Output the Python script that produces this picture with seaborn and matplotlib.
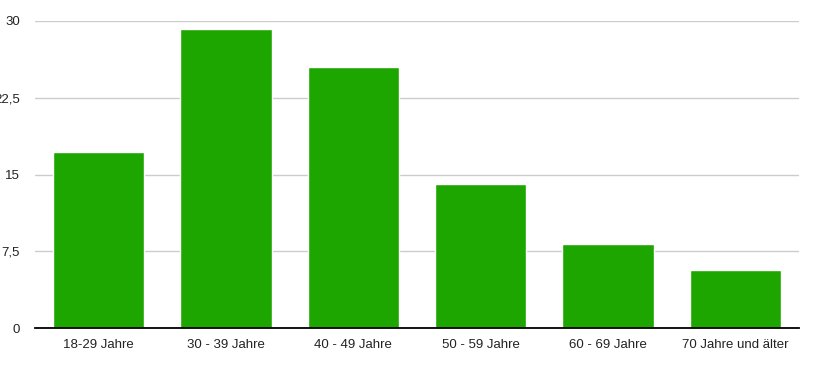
import matplotlib
matplotlib.use("Agg")
import matplotlib.pyplot as plt
import seaborn as sns
import pandas as pd

categories = ["18-29 Jahre", "30 - 39 Jahre", "40 - 49 Jahre", "50 - 59 Jahre", "60 - 69 Jahre", "70 Jahre und älter"]
values = [17.2, 29.2, 25.5, 14.1, 8.2, 5.7]
y_ticks = [0, 7.5, 15, 22.5, 30]
y_tick_labels = ["0", "7,5", "15", "22,5", "30"]

sns.set_theme(style="white")
plt.rcParams['font.family'] = ['Liberation Sans', 'DejaVu Sans']

df = pd.DataFrame({"cat": categories, "val": values})

fig = plt.figure(figsize=(8.2, 3.71), dpi=100)
ax = fig.add_axes([35/820, 1-328.3/371, (799-35)/820, (328.3-20.7)/371])

sns.barplot(data=df, x="cat", y="val", color="#1ea600", saturation=1, width=0.715, ax=ax, zorder=3)

ax.set_xlim(-0.5, 5.5)
ax.set_ylim(0, 30)
ax.set_yticks(y_ticks)
ax.set_yticklabels(y_tick_labels)
ax.set_xlabel("")
ax.set_ylabel("")
ax.yaxis.grid(True, color="#cccccc", linewidth=1, zorder=0)
ax.xaxis.grid(False)
for s in ["left", "right", "top"]:
    ax.spines[s].set_visible(False)
ax.spines["bottom"].set_color("black")
ax.spines["bottom"].set_linewidth(1.3)
ax.spines["bottom"].set_zorder(4)
ax.tick_params(axis="both", length=0, labelsize=9.5, colors="#222222")
ax.tick_params(axis="y", pad=11)
ax.tick_params(axis="x", pad=8)

fig.savefig("out.png", dpi=100)
